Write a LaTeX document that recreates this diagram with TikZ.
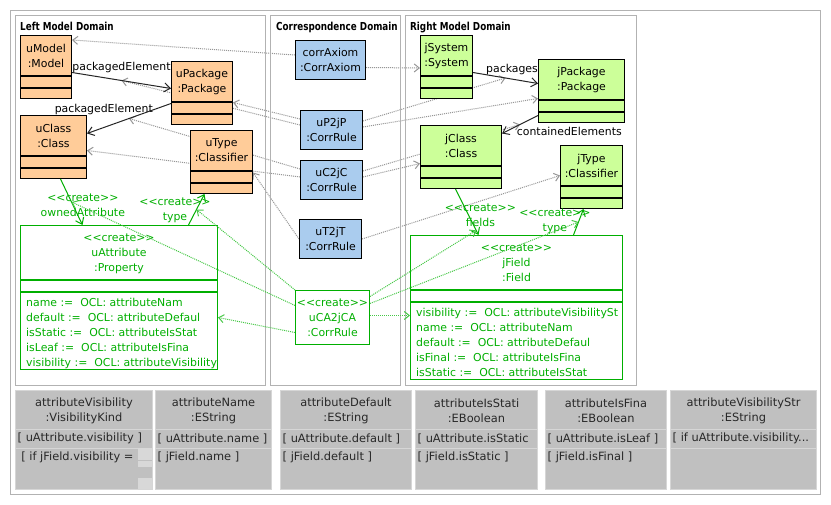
\documentclass[tikz,border=0pt]{standalone}
\usepackage{fontspec}
\setmainfont{DejaVu Sans}
\newfontfamily\domainfont[FakeStretch=0.8]{DejaVu Sans Bold}
\usetikzlibrary{arrows.meta, positioning, calc}

\definecolor{srcfill}{RGB}{255,204,153}
\definecolor{trgfill}{RGB}{204,255,153}
\definecolor{corrfill}{RGB}{170,204,238}
\definecolor{creategreen}{RGB}{0,175,0}
\definecolor{createdots}{RGB}{70,200,70}
\definecolor{corrdots}{RGB}{150,150,150}
\definecolor{framegray}{RGB}{178,178,178}
\definecolor{cellfill}{RGB}{192,192,192}
\definecolor{cellline}{RGB}{214,214,214}
\definecolor{cellspot}{RGB}{216,216,216}
\definecolor{celltext}{RGB}{40,40,40}

\pgfdeclarelayer{background}
\pgfsetlayers{background,main}

\begin{document}
\begin{tikzpicture}[
x=1pt, y=-1pt,
font=\fontsize{10.9}{15}\selectfont,
domainframe/.style={draw=framegray, line width=1pt, anchor=north west, inner sep=0pt},
domaintitle/.style={font=\domainfont\fontsize{11}{13}\selectfont, anchor=base west, inner sep=0pt},
umlclass/.style={draw, line width=1pt, anchor=north west, inner sep=0pt, minimum height=63pt},
srcclass/.style={umlclass, fill=srcfill},
trgclass/.style={umlclass, fill=trgfill},
classname/.style={align=center, yshift=11.5pt, inner sep=0pt},
corrrule/.style={draw, line width=1pt, fill=corrfill, align=center, anchor=north west, inner sep=0pt, minimum height=39pt},
createbox/.style={draw=creategreen, line width=1pt, fill=white, anchor=north west, inner sep=0pt},
createtext/.style={text=creategreen, inner sep=0pt},
assoc/.style={line width=1pt, draw=black!85, -{Straight Barb[length=6pt,width=9pt]}},
createlink/.style={assoc, draw=creategreen},
corrlink/.style={line width=1pt, draw=corrdots, dash pattern=on 1pt off 1pt, -{Straight Barb[length=5pt,width=8pt]}},
createcorrlink/.style={corrlink, draw=createdots},
linklabel/.style={inner sep=0pt},
cellbox/.style={draw=cellline, line width=1pt, fill=cellfill, anchor=north west, inner sep=0pt, minimum height=99pt},
celltext/.style={text=celltext, inner sep=0pt, font=\fontsize{11.4}{15}\selectfont}
]

\begin{pgfonlayer}{background}
\fill[white] (0,0) rectangle (831,505);
\end{pgfonlayer}
\useasboundingbox (0,0) rectangle (831,505);

% frames
\node[domainframe, minimum width=810pt, minimum height=484pt] (diagram) at (10,10) {};
\node[domainframe, minimum width=250pt, minimum height=370pt] (leftDomain) at (15,15) {};
\node[domainframe, minimum width=130pt, minimum height=370pt] (corrDomain) at (270,15) {};
\node[domainframe, minimum width=231pt, minimum height=370pt] (rightDomain) at (405,15) {};

\node[domaintitle] (leftTitle) at ($(leftDomain.north west)+(5,16)$) {Left Model Domain};
\node[domaintitle] (corrTitle) at ($(corrDomain.north west)+(6,16)$) {Correspondence Domain};
\node[domaintitle] (rightTitle) at ($(rightDomain.north west)+(5,16)$) {Right Model Domain};

% left model domain
\node[srcclass, minimum width=51pt, label={[classname]center:{uModel\\:Model}}] (uModel) at (20,35) {};
\node[srcclass, minimum width=61pt, label={[classname]center:{uPackage\\:Package}}] (uPackage) at (171,61) {};
\node[srcclass, minimum width=66pt, label={[classname]center:{uClass\\:Class}}] (uClass) at (20,115) {};
\node[srcclass, minimum width=62pt, label={[classname]center:{uType\\:Classifier}}] (uType) at (190,130) {};

\node[createbox, minimum width=197pt, minimum height=144pt] (uAttribute) at (20,225) {};
\node[createtext, align=center, anchor=north] (uAttributeHead) at ($(uAttribute.north)+(0,9)$)
{<{}<create>{}>\\uAttribute\\:Property};
\node[createtext, align=left, anchor=north west] (uAttributeSlots) at ($(uAttribute.north west)+(6,73)$)
{name :=\ \ OCL: attributeNam\\default :=\ \ OCL: attributeDefaul\\isStatic :=\ \ OCL: attributeIsStat\\isLeaf :=\ \ OCL: attributeIsFina\\visibility :=\ \ OCL: attributeVisibility};

% correspondence domain
\node[corrrule, minimum width=70pt] (corrAxiom) at (295,40) {corrAxiom\\:CorrAxiom};
\node[corrrule, minimum width=62pt] (uP2jP) at (300,110) {uP2jP\\:CorrRule};
\node[corrrule, minimum width=62pt] (uC2jC) at (300,160) {uC2jC\\:CorrRule};
\node[corrrule, minimum width=62pt] (uT2jT) at (299,219) {uT2jT\\:CorrRule};
\node[createbox, minimum width=74pt, minimum height=54pt, align=center, text=creategreen] (uCA2jCA) at (295,290)
{<{}<create>{}>\\uCA2jCA\\:CorrRule};

% right model domain
\node[trgclass, minimum width=52pt, label={[classname]center:{jSystem\\:System}}] (jSystem) at (420,35) {};
\node[trgclass, minimum width=86pt, label={[classname]center:{jPackage\\:Package}}] (jPackage) at (538,59) {};
\node[trgclass, minimum width=81pt, label={[classname]center:{jClass\\:Class}}] (jClass) at (420,125) {};
\node[trgclass, minimum width=62pt, label={[classname]center:{jType\\:Classifier}}] (jType) at (560,145) {};

\node[createbox, minimum width=212pt, minimum height=144pt] (jField) at (410,235) {};
\node[createtext, align=center, anchor=north] (jFieldHead) at ($(jField.north)+(0,9)$)
{<{}<create>{}>\\jField\\:Field};
\node[createtext, align=left, anchor=north west] (jFieldSlots) at ($(jField.north west)+(6,73)$)
{visibility :=\ \ OCL: attributeVisibilitySt\\name :=\ \ OCL: attributeNam\\default :=\ \ OCL: attributeDefaul\\isFinal :=\ \ OCL: attributeIsFina\\isStatic :=\ \ OCL: attributeIsStat};

% compartments
\foreach \cls in {uModel,uPackage,uClass,uType,jSystem,jPackage,jClass,jType} {
  \draw[line width=2pt] ($(\cls.south west)+(0,-23)$) -- ($(\cls.south east)+(0,-23)$);
  \draw[line width=2pt] ($(\cls.south west)+(0,-11)$) -- ($(\cls.south east)+(0,-11)$);
}
\foreach \cls in {uAttribute,jField} {
  \draw[creategreen, line width=2pt] ($(\cls.north west)+(0,55)$) -- ($(\cls.north east)+(0,55)$);
  \draw[creategreen, line width=2pt] ($(\cls.north west)+(0,67)$) -- ($(\cls.north east)+(0,67)$);
}

% links
\draw[assoc] ($(uModel.east)+(0,5.5)$) -- node[linklabel, pos=0.5, above=7.5pt] (pkgElemLabelA) {packagedElement}
  coordinate[pos=0.5] (pkgElemMidA) ($(uPackage.west)+(0,-4.5)$);
\draw[assoc] ($(uPackage.west)+(0,10.5)$) -- node[linklabel, pos=0.21, anchor=east] (pkgElemLabelB) {packagedElement}
  coordinate[pos=0.5] (pkgElemMidB) ($(uClass.east)+(0,-13.5)$);
\draw[assoc] ($(jSystem.east)+(0,5.5)$) -- node[linklabel, pos=0.6, above=4pt] (packagesLabel) {packages}
  coordinate[pos=0.5] (packagesMid) ($(jPackage.west)+(0,-7.5)$);
\draw[assoc] ($(jPackage.west)+(0,24.5)$) -- node[linklabel, pos=0.6, anchor=north west] (containedLabel) {containedElements}
  coordinate[pos=0.5] (containedMid) ($(jClass.east)+(0,-23.5)$);

\draw[createlink] ($(uClass.south)+(7,0)$) -- node[createtext, align=center, pos=0.56, xshift=10pt] (ownedAttrLabel) {<{}<create>{}>\\ownedAttribute}
  coordinate[pos=0.5] (ownedAttrMid) ($(uAttribute.north)+(-36.5,0)$);
\draw[createlink] ($(uAttribute.north)+(69.5,0)$) -- node[createtext, align=center, pos=0.47, xshift=-21pt] (uTypeLinkLabel) {<{}<create>{}>\\type}
  coordinate[pos=0.5] (uTypeLinkMid) ($(uType.south)+(-17,0)$);
\draw[createlink] ($(jClass.south)+(-5.5,0)$) -- node[createtext, align=center, pos=0.56, xshift=12pt] (fieldsLabel) {<{}<create>{}>\\fields}
  coordinate[pos=0.9] (fieldsEnd) ($(jField.north)+(-38,0)$);
\draw[createlink] ($(jField.north)+(57,0)$) -- node[createtext, align=center, pos=0.54, xshift=-24pt] (jTypeLinkLabel) {<{}<create>{}>\\type}
  coordinate[pos=0.5] (jTypeLinkMid) ($(jType.south)+(-8,0)$);

% correspondence links
\begin{pgfonlayer}{background}
\draw[corrlink] ($(corrAxiom.west)+(0,-5)$) -- ($(uModel.north east)+(0,5)$);
\draw[corrlink] ($(corrAxiom.east)+(0,7.5)$) -- ($(jSystem.west)+(0,1)$);
\draw[corrlink] ($(uP2jP.west)+(0,-11)$) -- ($(uPackage.east)+(0,9.5)$);
\draw[corrlink] ($(uP2jP.west)+(0,-5)$) -- (pkgElemMidA);
\draw[corrlink] ($(uP2jP.east)+(0,-9)$) -- (packagesMid);
\draw[corrlink] ($(uP2jP.east)+(0,-3)$) -- ($(jPackage.west)+(0,7.5)$);
\draw[corrlink] ($(uC2jC.west)+(0,-11)$) -- (pkgElemMidB);
\draw[corrlink] ($(uC2jC.west)+(0,-3)$) -- ($(uClass.east)+(0,3.5)$);
\draw[corrlink] ($(uC2jC.east)+(0,-9)$) -- (containedMid);
\draw[corrlink] ($(uC2jC.east)+(0,-3)$) -- ($(jClass.west)+(0,6.5)$);
\draw[corrlink] (uT2jT.west) -- ($(uType.east)+(0,10.5)$);
\draw[corrlink] (uT2jT.east) -- ($(jType.west)+(0,-1.5)$);
\end{pgfonlayer}

\draw[createcorrlink] (uCA2jCA.north west) -- (uTypeLinkMid);
\draw[createcorrlink] ($(uCA2jCA.west)+(0,-12)$) -- (ownedAttrMid);
\draw[createcorrlink] ($(uCA2jCA.west)+(0,15)$) -- ($(uAttribute.east)+(0,20)$);
\draw[createcorrlink] ($(uCA2jCA.east)+(0,-21)$) -- (fieldsEnd);
\draw[createcorrlink] ($(uCA2jCA.east)+(0,-14)$) -- (jTypeLinkMid);
\draw[createcorrlink] ($(uCA2jCA.east)+(0,-2)$) -- ($(jField.west)+(0,8)$);

% attribute value cells
\foreach \cell/\x/\w/\head/\src/\trg in {
  visKindCell/15/137/{attributeVisibility\\:VisibilityKind}/{[ uAttribute.visibility ]}/{\ [ if jField.visibility = '.},
  nameCell/155/116/{attributeName\\:EString}/{[ uAttribute.name ]}/{[ jField.name ]},
  defaultCell/280/131/{attributeDefault\\:EString}/{[ uAttribute.default ]}/{[ jField.default ]},
  staticCell/415/122/{attributeIsStati\\:EBoolean}/{[ uAttribute.isStatic}/{[ jField.isStatic ]},
  finalCell/545/121/{attributeIsFina\\:EBoolean}/{[ uAttribute.isLeaf ]}/{[ jField.isFinal ]},
  visStrCell/670/146/{attributeVisibilityStr\\:EString}/{[ if uAttribute.visibility...}/{}} {
  \node[cellbox, minimum width=\w pt] (\cell) at (\x,390) {};
  \draw[cellline, line width=1pt] ($(\cell.north west)+(0,39)$) -- ($(\cell.north east)+(0,39)$);
  \draw[cellline, line width=1pt] ($(\cell.north west)+(0,58)$) -- ($(\cell.north east)+(0,58)$);
  \node[celltext, align=center] (\cell-head) at ($(\cell.north)+(0,21)$) {\head};
  \node[celltext, anchor=west] (\cell-src) at ($(\cell.north west)+(2.5,48.5)$) {\src};
  \node[celltext, anchor=west] (\cell-trg) at ($(\cell.north west)+(2.5,67)$) {\trg};
}
\fill[cellspot] (138,448) rectangle (152,460);
\fill[cellspot] (138,461) rectangle (152,467);
\fill[cellspot] (138,478) rectangle (152,489);

\end{tikzpicture}
\end{document}
